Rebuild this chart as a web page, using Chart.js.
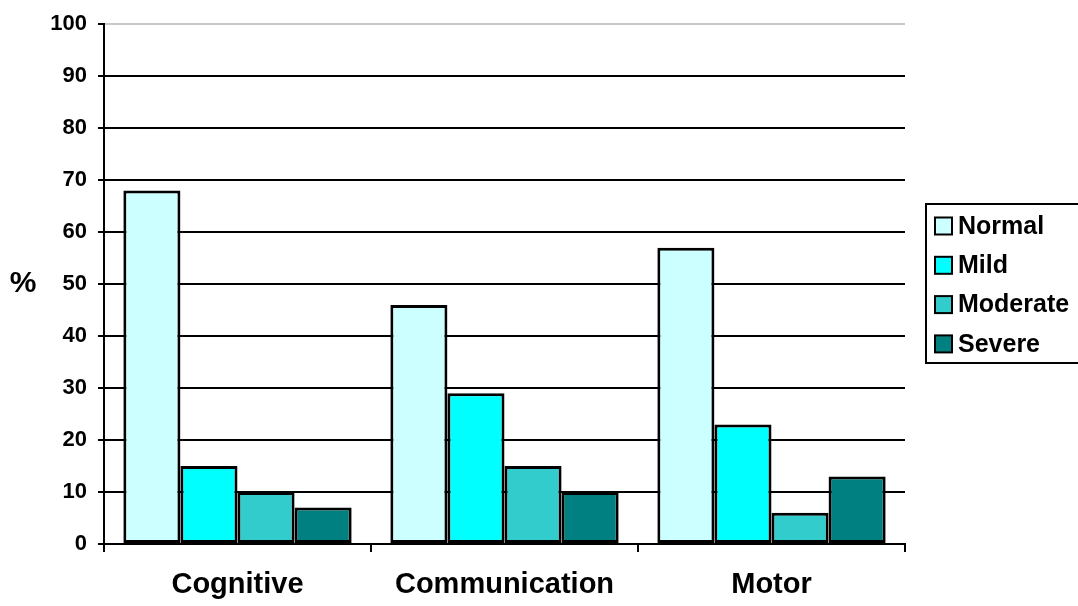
<!DOCTYPE html>
<html>
<head>
<meta charset="utf-8">
<script src="https://cdn.jsdelivr.net/npm/chart.js@4.4.0/dist/chart.umd.min.js"></script>
<style>
  html, body { margin: 0; padding: 0; background: #fff; }
  #wrap { width: 1078px; height: 606px; }
</style>
</head>
<body>
<div id="wrap"><canvas id="chart"></canvas></div>
<script>
const categories = ['Cognitive', 'Communication', 'Motor'];
const normal = [68, 46, 57];
const mild = [15, 29, 23];
const moderate = [10, 15, 6];
const severe = [7, 10, 13];
const yTicks = [0, 10, 20, 30, 40, 50, 60, 70, 80, 90, 100];

const FONT = 'Arial, "Liberation Sans", sans-serif';
Chart.defaults.font.family = FONT;
Chart.defaults.color = '#000';

// boxed legend on the right + the "%" axis label
const extras = {
    id: 'extras',
    afterDraw(chart) {
        const ctx = chart.ctx;
        ctx.save();
        // "%" label
        ctx.font = 'bold 30px ' + FONT;
        ctx.fillStyle = '#000';
        ctx.textAlign = 'center';
        ctx.textBaseline = 'middle';
        ctx.fillText('%', 23, 284);

        // legend box
        const left = 926, top = 204, bottom = 363;
        ctx.strokeStyle = '#000';
        ctx.lineWidth = 2;
        ctx.beginPath();
        ctx.moveTo(chart.width + 5, top);
        ctx.lineTo(left, top);
        ctx.lineTo(left, bottom);
        ctx.lineTo(chart.width + 5, bottom);
        ctx.stroke();

        ctx.font = 'bold 25px ' + FONT;
        ctx.textAlign = 'left';
        chart.data.datasets.forEach((ds, i) => {
            const cy = 226 + i * 39.3;
            ctx.fillStyle = ds.backgroundColor;
            ctx.fillRect(935, cy - 8.5, 17, 17);
            ctx.strokeRect(935, cy - 8.5, 17, 17);
            ctx.fillStyle = '#000';
            ctx.fillText(ds.label, 958, cy + 1);
        });
        ctx.restore();
    }
};

new Chart(document.getElementById('chart'), {
    type: 'bar',
    data: {
        labels: categories,
        datasets: [
            { label: 'Normal', data: normal, backgroundColor: '#CCFFFF' },
            { label: 'Mild', data: mild, backgroundColor: '#00FFFF' },
            { label: 'Moderate', data: moderate, backgroundColor: '#33CCCC' },
            { label: 'Severe', data: severe, backgroundColor: '#008080' }
        ]
    },
    options: {
        responsive: true,
        maintainAspectRatio: false,
        animation: false,
        layout: { padding: { left: 0, right: 173, top: 24, bottom: 0 } },
        datasets: {
            bar: {
                borderColor: '#000',
                borderWidth: 3,
                borderSkipped: false,
                categoryPercentage: 0.855,
                barPercentage: 1.0
            }
        },
        plugins: {
            legend: { display: false },
            tooltip: { enabled: false }
        },
        scales: {
            x: {
                afterFit: s => { s.height = 62; },
                border: { color: '#000', width: 2 },
                grid: {
                    drawOnChartArea: false,
                    offset: true,
                    color: '#000',
                    lineWidth: 2,
                    tickLength: 8
                },
                ticks: {
                    font: { size: 29, weight: 'bold' },
                    color: '#000',
                    padding: 16
                }
            },
            y: {
                min: 0,
                max: 100,
                afterFit: s => { s.width = 104; },
                afterBuildTicks: s => { s.ticks = yTicks.map(v => ({ value: v })); },
                border: { color: '#000', width: 2 },
                grid: {
                    color: c => (c.tick && c.tick.value === 100) ? '#c8c8c8' : '#000',
                    tickColor: '#000',
                    lineWidth: 2,
                    tickLength: 6
                },
                ticks: {
                    font: { size: 22, weight: 'bold' },
                    color: '#000',
                    padding: 11
                }
            }
        }
    },
    plugins: [extras]
});
</script>
</body>
</html>
